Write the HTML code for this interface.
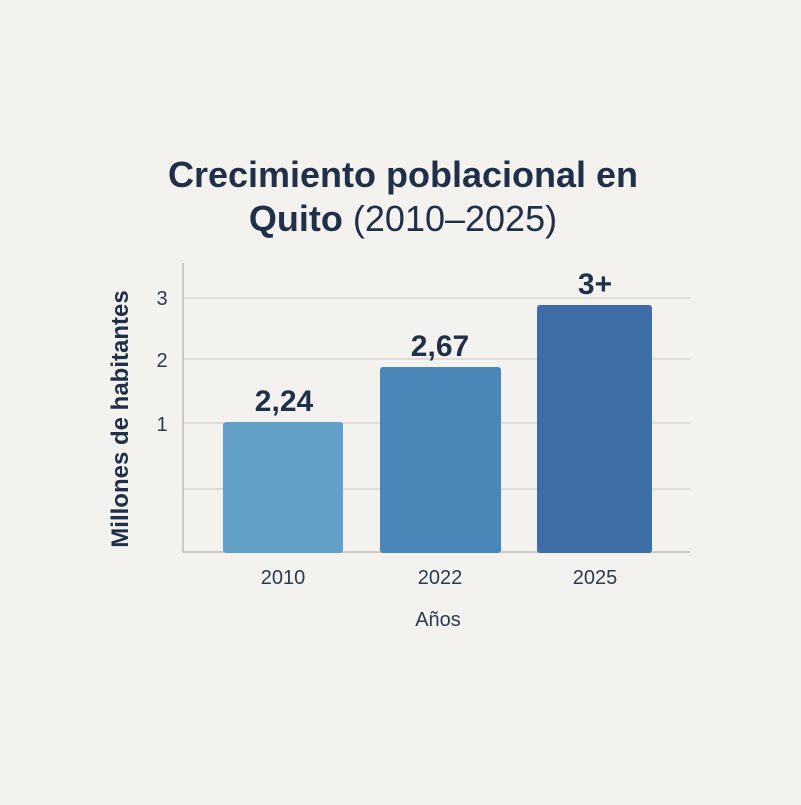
<!DOCTYPE html>
<html><head><meta charset="utf-8"><style>
body{margin:0;width:801px;height:800px;background:#f3f2ef;font-family:"Liberation Sans",sans-serif;overflow:hidden}
</style></head><body>
<svg width="801" height="800" xmlns="http://www.w3.org/2000/svg">
<rect width="801" height="800" fill="#f3f2ef"/>
<text x="403" y="187" text-anchor="middle" font-size="36" font-weight="bold" fill="#1f3048">Crecimiento poblacional en</text>
<text x="403" y="231" text-anchor="middle" font-size="36" fill="#1f3048"><tspan font-weight="bold">Quito</tspan> (2010–2025)</text>
<g stroke="#d6d5d2" stroke-width="1.5">
<line x1="183" y1="298" x2="690" y2="298"/>
<line x1="183" y1="359" x2="690" y2="359"/>
<line x1="183" y1="423" x2="690" y2="423"/>
<line x1="183" y1="489" x2="690" y2="489"/>
</g>
<line x1="183" y1="263" x2="183" y2="553" stroke="#bdbcb9" stroke-width="1.5"/>
<line x1="183" y1="552" x2="690" y2="552" stroke="#bdbcb9" stroke-width="1.5"/>
<g font-size="20" fill="#2a3a50" text-anchor="middle">
<text x="162" y="305">3</text><text x="162" y="367">2</text><text x="162" y="431">1</text>
<text x="283" y="584">2010</text><text x="440" y="584">2022</text><text x="595" y="584">2025</text>
<text x="438" y="626">Años</text>
</g>
<text transform="translate(128,419) rotate(-90)" text-anchor="middle" font-size="24" font-weight="bold" fill="#1f3048">Millones de habitantes</text>
<rect x="223" y="422" width="120" height="131" rx="3" fill="#62a0c8"/>
<rect x="380" y="367" width="121" height="186" rx="3" fill="#4a86b8"/>
<rect x="537" y="305" width="115" height="248" rx="3" fill="#3e6ea5"/>
<g font-size="30" font-weight="bold" fill="#1f3048" text-anchor="middle">
<text x="284" y="411">2,24</text><text x="440" y="356">2,67</text><text x="595" y="294">3+</text>
</g>
</svg>
</body></html>
